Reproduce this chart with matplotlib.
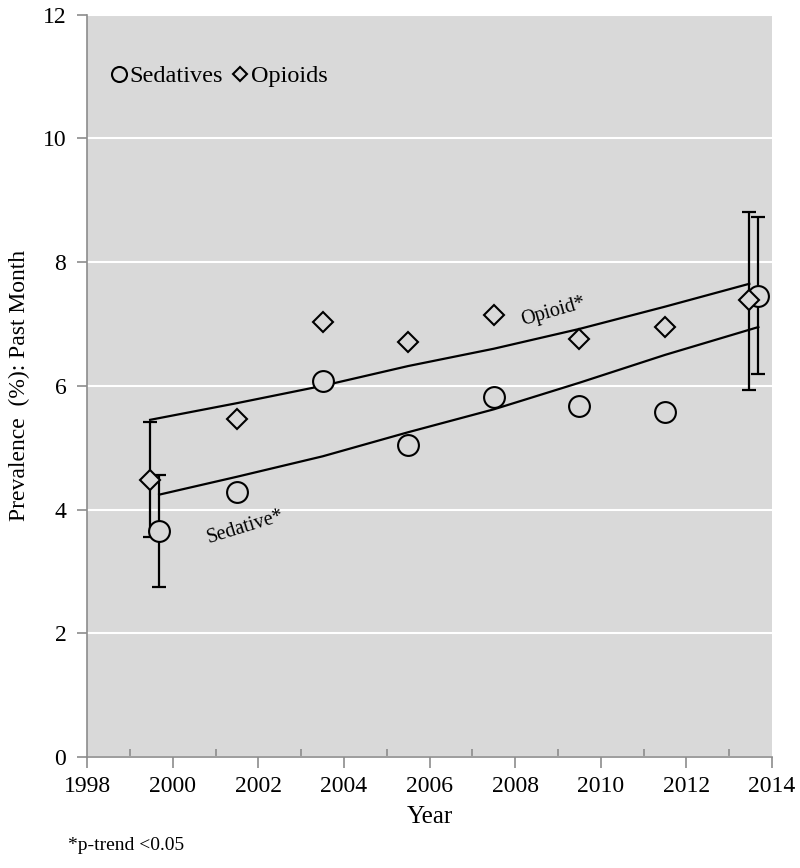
import matplotlib
matplotlib.use("Agg")
import matplotlib.pyplot as plt
from matplotlib.ticker import MultipleLocator

plt.rcParams['font.family'] = ['Liberation Serif', 'DejaVu Serif']

# survey years (first and last waves slightly offset in the original)
years_sed = [1999.68, 2001.5, 2003.5, 2005.5, 2007.5, 2009.5, 2011.5, 2013.68]
years_op = [1999.47, 2001.5, 2003.5, 2005.5, 2007.5, 2009.5, 2011.5, 2013.47]

# past-month prevalence (%)
sedatives = [3.66, 4.29, 6.08, 5.05, 5.82, 5.68, 5.58, 7.45]
opioids = [4.48, 5.47, 7.03, 6.71, 7.15, 6.76, 6.95, 7.38]

# 95% CI shown for first and last wave only
ci_years_sed = [1999.68, 2013.68]
ci_sed_val = [3.66, 7.45]
ci_sed_low = [2.75, 6.19]
ci_sed_high = [4.56, 8.73]
ci_years_op = [1999.47, 2013.47]
ci_op_val = [4.48, 7.38]
ci_op_low = [3.56, 5.94]
ci_op_high = [5.42, 8.81]

# fitted trend lines
sed_trend = [4.24, 4.53, 4.86, 5.25, 5.62, 6.05, 6.5, 6.95]
op_trend = [5.45, 5.72, 6.0, 6.32, 6.6, 6.92, 7.28, 7.65]

bg = '#d9d9d9'

fig = plt.figure(figsize=(8, 8.68), dpi=100)
ax = fig.add_axes([0.109, 0.128, 0.856, 0.855])
ax.set_facecolor(bg)

# trend lines
ax.plot(years_op, op_trend, color='black', lw=1.6, zorder=2)
ax.plot(years_sed, sed_trend, color='black', lw=1.6, zorder=2)

# error bars
ax.errorbar(ci_years_op, ci_op_val,
            yerr=[[v - l for v, l in zip(ci_op_val, ci_op_low)],
                  [h - v for v, h in zip(ci_op_val, ci_op_high)]],
            fmt='none', ecolor='black', elinewidth=1.6, capsize=5, capthick=1.6, zorder=3)
ax.errorbar(ci_years_sed, ci_sed_val,
            yerr=[[v - l for v, l in zip(ci_sed_val, ci_sed_low)],
                  [h - v for v, h in zip(ci_sed_val, ci_sed_high)]],
            fmt='none', ecolor='black', elinewidth=1.6, capsize=5, capthick=1.6, zorder=3)

# points
ax.plot(years_sed, sedatives, 'o', ms=15, mfc=bg, mec='black', mew=1.5,
        label='Sedatives', zorder=4)
ax.plot(years_op, opioids, 'D', ms=10, mfc=bg, mec='black', mew=1.5,
        label='Opioids', zorder=4)

ax.text(2008.9, 7.2, 'Opioid*', fontsize=14.5, rotation=16, ha='center', va='center')
ax.text(2001.7, 3.72, 'Sedative*', fontsize=14.5, rotation=17, ha='center', va='center')

ax.set_xlim(1998, 2014)
ax.set_ylim(0, 12)
ax.xaxis.set_major_locator(MultipleLocator(2))
ax.xaxis.set_minor_locator(MultipleLocator(1))
ax.yaxis.set_major_locator(MultipleLocator(2))
ax.grid(axis='y', color='white', lw=1.5)
ax.set_axisbelow(True)

for s in ['top', 'right']:
    ax.spines[s].set_visible(False)
for s in ['left', 'bottom']:
    ax.spines[s].set_color('#8c8c8c')
    ax.spines[s].set_linewidth(1.2)

ax.tick_params(axis='x', which='major', direction='out', length=8, color='#8c8c8c',
               width=1.2, labelsize=17, pad=6)
ax.tick_params(axis='x', which='minor', direction='in', length=6, color='#8c8c8c', width=1.2)
ax.tick_params(axis='y', which='major', direction='out', length=7, color='#8c8c8c',
               width=1.2, labelsize=17, pad=8)

ax.set_xlabel('Year', fontsize=18, labelpad=6)
ax.set_ylabel('Prevalence  (%): Past Month', fontsize=17, labelpad=9)

leg = ax.legend(loc='upper left', bbox_to_anchor=(0.0, 0.965), ncol=2, frameon=False,
                fontsize=17.5, markerscale=0.72, handlelength=0.6, handletextpad=0.15,
                columnspacing=0.4, borderaxespad=0.6)

fig.text(0.085, 0.016, '*p-trend <0.05', fontsize=14, ha='left', va='bottom')

fig.savefig('out.png', dpi=100)
